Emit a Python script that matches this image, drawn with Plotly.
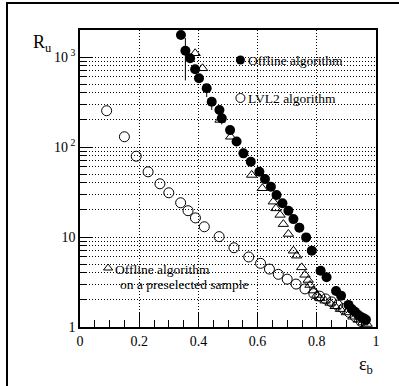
import plotly.graph_objects as go

# Offline algorithm (filled circles)
off_eff = [0.341, 0.356, 0.372, 0.389, 0.402, 0.428, 0.445, 0.471, 0.479, 0.507, 0.529, 0.552,
           0.577, 0.606, 0.625, 0.645, 0.664, 0.684, 0.704, 0.721, 0.741, 0.764, 0.783, 0.813,
           0.833, 0.865, 0.882, 0.907, 0.918, 0.929, 0.940, 0.951, 0.960, 0.966]
off_rej = [1755, 1175, 967, 730, 580, 449, 318, 258, 208, 154, 115, 85,
           68.7, 53, 44, 36.2, 29.3, 23.7, 19.6, 15.8, 12.7, 9.9, 7.05, 4.22,
           3.57, 2.51, 2.23, 1.76, 1.58, 1.48, 1.36, 1.28, 1.24, 1.2]
off_err_up = [0, 445, 0, 0, 0, 0, 40, 0, 0, 0, 0, 0] + [0] * 22
off_err_dn = [0, 625, 0, 0, 0, 90, 60, 0, 30, 0, 0, 0] + [0] * 22

# LVL2 algorithm (open circles)
lvl2_eff = [0.09, 0.15, 0.19, 0.23, 0.27, 0.30, 0.34, 0.365, 0.39, 0.42, 0.47, 0.52, 0.57,
            0.61, 0.64, 0.67, 0.70, 0.73, 0.76, 0.79, 0.81, 0.83, 0.85, 0.87, 0.89, 0.91,
            0.93, 0.95]
lvl2_rej = [253, 130, 79, 53, 39, 31, 24, 19.6, 16.3, 13, 10.1, 7.6, 6.0,
            5.1, 4.4, 3.85, 3.4, 3.0, 2.65, 2.35, 2.2, 2.05, 1.9, 1.75, 1.6, 1.45,
            1.3, 1.15]

# Offline algorithm on a preselected sample (open triangles)
pre_eff = [0.389, 0.414, 0.473, 0.509, 0.580, 0.616, 0.653, 0.662, 0.676, 0.687, 0.704,
           0.721, 0.732, 0.749, 0.760, 0.771, 0.777, 0.788, 0.800, 0.811, 0.828, 0.845,
           0.862, 0.880, 0.900, 0.922, 0.940, 0.955, 0.970]
pre_rej = [1100, 749, 200, 130, 48.9, 34.8, 24.7, 20.8, 17.6, 13.9, 10.8,
           7.04, 6.2, 4.6, 3.8, 3.33, 2.93, 2.54, 2.27, 2.08, 1.96, 1.85,
           1.7, 1.58, 1.45, 1.3, 1.2, 1.12, 1.08]

x_ticks = [0, 0.2, 0.4, 0.6, 0.8, 1]
x_labels = ["0", "0.2", "0.4", "0.6", "0.8", "1"]
x_minor = [0.05 * i for i in range(21)]
y_ticks = [1, 10, 100, 1000]
y_labels = ["1", "10", "10<sup> 2</sup>", "10<sup> 3</sup>"]
y_minor = [m * 10 ** d for d in range(4) for m in range(1, 10) if m * 10 ** d < 2000]

FONT = "Liberation Serif"
GRID_DASH = "1px,2px"
LEG_SIZE = 13.5

fig = go.Figure()

fig.add_trace(go.Scatter(
    x=pre_eff, y=pre_rej, mode="markers",
    marker=dict(symbol="triangle-up-open", size=9, color="black", line=dict(width=1)),
    showlegend=False))
fig.add_trace(go.Scatter(
    x=lvl2_eff, y=lvl2_rej, mode="markers",
    marker=dict(symbol="circle-open", size=10, color="black", line=dict(width=1)),
    showlegend=False))
fig.add_trace(go.Scatter(
    x=off_eff, y=off_rej, mode="markers",
    marker=dict(symbol="circle", size=10, color="black"),
    error_y=dict(type="data", symmetric=False, array=off_err_up, arrayminus=off_err_dn,
                 color="black", thickness=1, width=0),
    showlegend=False))

# minor-tick / grid overlay axes (no data)
fig.add_trace(go.Scatter(x=[0.5], y=[10], xaxis="x2", yaxis="y2", mode="markers",
                         marker=dict(opacity=0), showlegend=False, hoverinfo="skip"))

# legend markers
fig.add_trace(go.Scatter(x=[0.542], y=[10 ** ((327 - 60) / 90)], mode="markers",
                         marker=dict(symbol="circle", size=9, color="black"),
                         showlegend=False, hoverinfo="skip"))
fig.add_trace(go.Scatter(x=[0.542], y=[10 ** ((327 - 98) / 90)], mode="markers",
                         marker=dict(symbol="circle-open", size=9, color="black", line=dict(width=1)),
                         showlegend=False, hoverinfo="skip"))
fig.add_trace(go.Scatter(x=[0.095], y=[10 ** ((327 - 268) / 90)], mode="markers",
                         marker=dict(symbol="triangle-up-open", size=8, color="black", line=dict(width=1)),
                         showlegend=False, hoverinfo="skip"))

fig.add_annotation(x=0.56, y=(327 - 60) / 90, xref="x", yref="y", text="Offline algorithm",
                   showarrow=False, xanchor="left", yanchor="middle",
                   font=dict(family=FONT, size=LEG_SIZE, color="black"))
fig.add_annotation(x=0.56, y=(327 - 98) / 90, xref="x", yref="y", text="LVL2 algorithm",
                   showarrow=False, xanchor="left", yanchor="middle",
                   font=dict(family=FONT, size=LEG_SIZE, color="black"))
fig.add_annotation(x=0.11, y=(327 - 269) / 90, xref="x", yref="y", text="Offline algorithm",
                   showarrow=False, xanchor="left", yanchor="middle",
                   font=dict(family=FONT, size=LEG_SIZE, color="black"))
fig.add_annotation(x=0.13, y=(327 - 284) / 90, xref="x", yref="y", text="on a preselected sample",
                   showarrow=False, xanchor="left", yanchor="middle",
                   font=dict(family=FONT, size=LEG_SIZE, color="black"))

# axis titles
fig.add_annotation(x=-0.128, y=0.956, xref="paper", yref="paper", text="R<sub>u</sub>",
                   showarrow=False, xanchor="center", yanchor="middle",
                   font=dict(family=FONT, size=18, color="black"))
fig.add_annotation(x=0.965, y=-0.128, xref="paper", yref="paper", text="ε<sub>b</sub>",
                   showarrow=False, xanchor="center", yanchor="middle",
                   font=dict(family=FONT, size=18, color="black"))

# outer frame
fig.add_shape(type="rect", xref="paper", yref="paper", x0=-0.2466, y0=-0.3, x1=1.2, y1=1.0909,
              line=dict(color="black", width=2), fillcolor="rgba(0,0,0,0)", layer="below")

fig.update_layout(
    width=399, height=386,
    margin=dict(l=80, r=23, t=30, b=59, autoexpand=False),
    paper_bgcolor="white", plot_bgcolor="white",
    font=dict(family=FONT, size=14, color="black"),
    xaxis=dict(range=[0, 1], tickvals=x_ticks, ticktext=x_labels, ticks="inside", ticklen=14,
               tickwidth=1, tickcolor="black", showline=True, linecolor="black", linewidth=1.5,
               mirror=True, showgrid=True, gridcolor="black", griddash=GRID_DASH, gridwidth=1,
               zeroline=False, automargin=False, tickfont=dict(family=FONT, size=14)),
    yaxis=dict(type="log", range=[0, 3.3], tickvals=y_ticks, ticktext=y_labels, ticks="inside",
               ticklen=12, tickwidth=1, tickcolor="black", showline=True, linecolor="black",
               linewidth=1.5, mirror=True, showgrid=False, zeroline=False, automargin=False,
               tickfont=dict(family=FONT, size=14)),
    xaxis2=dict(range=[0, 1], overlaying="x", tickvals=x_minor, ticks="inside", ticklen=7,
                tickcolor="black", showticklabels=False, showgrid=False, showline=False,
                zeroline=False, automargin=False),
    yaxis2=dict(type="log", range=[0, 3.3], overlaying="y", tickvals=y_minor, ticks="inside",
                ticklen=7, tickcolor="black", showticklabels=False, showgrid=True,
                gridcolor="black", griddash=GRID_DASH, gridwidth=1, showline=False, zeroline=False,
                automargin=False),
)

fig.write_html("out.html", config={"displayModeBar": False},
               post_script="document.body.style.margin='0px';document.body.style.overflow='hidden';")
